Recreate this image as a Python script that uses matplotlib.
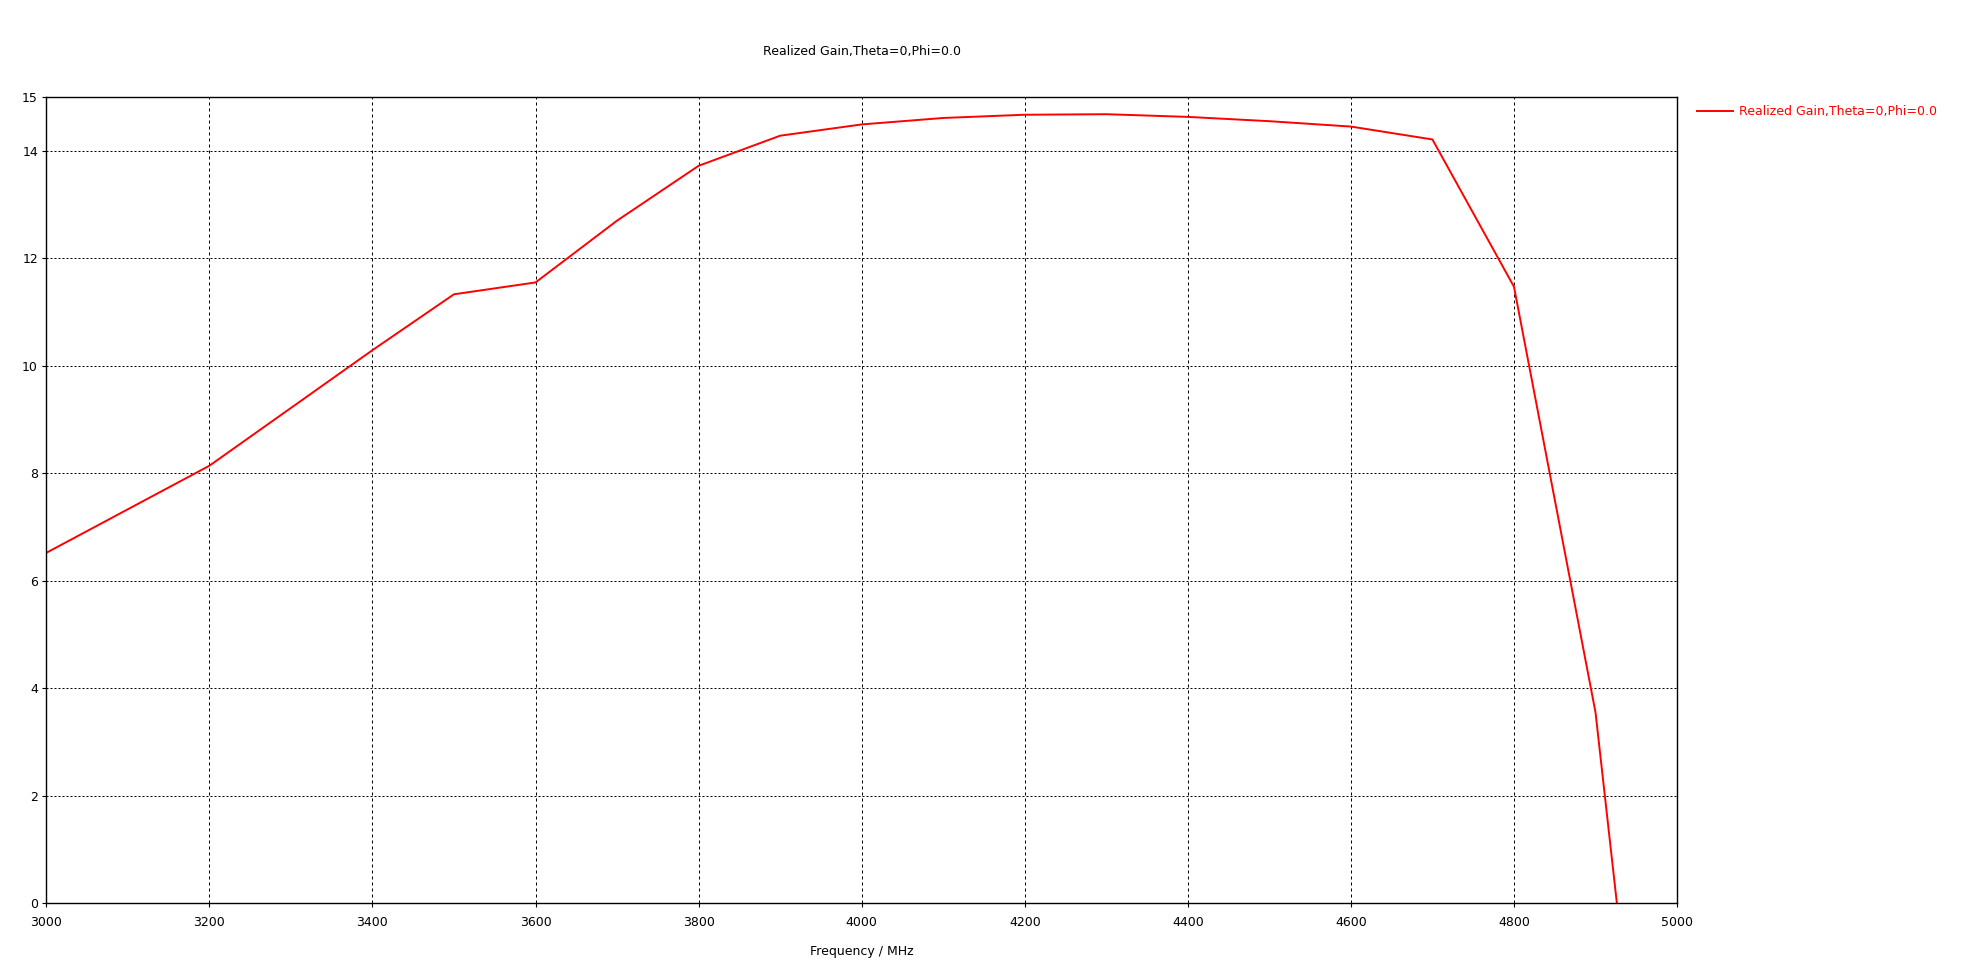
import matplotlib
matplotlib.use('Agg')
import matplotlib.pyplot as plt

# realized gain (MHz, dB)
freq = [3000, 3200, 3400, 3500, 3600, 3700, 3800, 3900, 4000, 4100,
        4200, 4300, 4400, 4500, 4600, 4700, 4800, 4900, 5000]
gain = [6.52, 8.14, 10.29, 11.33, 11.55, 12.7, 13.72, 14.28, 14.49, 14.61,
        14.67, 14.68, 14.63, 14.55, 14.45, 14.21, 11.47, 3.55, -10.0]
x_ticks = [3000, 3200, 3400, 3600, 3800, 4000, 4200, 4400, 4600, 4800, 5000]
y_ticks = [0, 2, 4, 6, 8, 10, 12, 14, 15]
series_name = 'Realized Gain,Theta=0,Phi=0.0'

plt.rcParams['font.family'] = ['DejaVu Sans']
plt.rcParams['font.size'] = 9

fig = plt.figure(figsize=(19.7, 9.72), dpi=100)
ax = fig.add_axes([0.0235, 0.0707, 0.8278, 0.8295])

ax.plot(freq, gain, color='#ff0000', linewidth=1.4, label=series_name)

ax.set_xlim(3000, 5000)
ax.set_ylim(0, 15)
ax.set_xticks(x_ticks)
ax.set_yticks(y_ticks)
ax.tick_params(direction='out', length=3, width=0.8, color='black', labelsize=9)
ax.tick_params(axis='x', pad=6)
ax.tick_params(axis='y', pad=3)

# dotted rows, slightly longer dashes on the columns
ax.yaxis.grid(True, color='black', linewidth=0.72, linestyle=(0, (2, 2)))
ax.xaxis.grid(True, color='black', linewidth=0.72, linestyle=(0, (3, 3)))
for s in ax.spines.values():
    s.set_linewidth(1.0)
    s.set_color('black')

ax.set_title(series_name, fontsize=9, pad=30)
ax.set_xlabel('Frequency / MHz', fontsize=9, labelpad=12)

leg = ax.legend(loc='center left', bbox_to_anchor=(0.858, 0.885),
                bbox_transform=fig.transFigure, frameon=False,
                handlelength=2.9, handletextpad=0.5, borderpad=0,
                fontsize=9, labelcolor='#ff0000')

fig.savefig('out.png', dpi=100)
